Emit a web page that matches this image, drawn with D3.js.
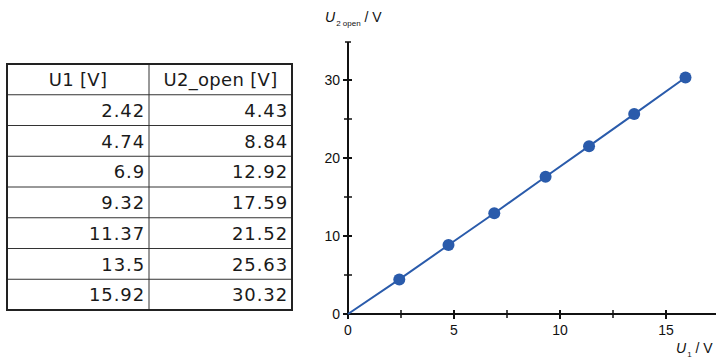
<!DOCTYPE html>
<html>
<head>
<meta charset="utf-8">
<script src="https://cdn.jsdelivr.net/npm/d3@7"></script>
<style>
  html, body { margin: 0; padding: 0; background: #fff; }
  svg { display: block; }
</style>
</head>
<body>
<svg id="chart" width="716" height="361"></svg>
<script>
// Measured open-circuit voltages
const u1Values = [2.42, 4.74, 6.9, 9.32, 11.37, 13.5, 15.92];
const u2OpenValues = [4.43, 8.84, 12.92, 17.59, 21.52, 25.63, 30.32];
const u1Labels = ["2.42", "4.74", "6.9", "9.32", "11.37", "13.5", "15.92"];
const u2OpenLabels = ["4.43", "8.84", "12.92", "17.59", "21.52", "25.63", "30.32"];
const tableHeaders = ["U1 [V]", "U2_open [V]"];
const xTicks = [0, 5, 10, 15];
const xMinorTicks = [2.5, 7.5, 12.5];
const yTicks = [0, 10, 20, 30];
const yMinorTicks = [5, 15, 25];

const svg = d3.select("#chart");

// ---------- table ----------
const tbl = { x: 7, y: 64, colW: [142, 143], rowH: 30.75 };
const tableG = svg.append("g");
const rows = [tableHeaders].concat(u1Labels.map((d, i) => [d, u2OpenLabels[i]]));
const tblW = tbl.colW[0] + tbl.colW[1];
const tblH = tbl.rowH * rows.length;

// inner grid lines
for (let i = 1; i < rows.length; i++) {
  tableG.append("line")
    .attr("x1", tbl.x).attr("x2", tbl.x + tblW)
    .attr("y1", tbl.y + i * tbl.rowH).attr("y2", tbl.y + i * tbl.rowH)
    .attr("stroke", "#333").attr("stroke-width", 1);
}
tableG.append("line")
  .attr("x1", tbl.x + tbl.colW[0]).attr("x2", tbl.x + tbl.colW[0])
  .attr("y1", tbl.y).attr("y2", tbl.y + tblH)
  .attr("stroke", "#333").attr("stroke-width", 1);
tableG.append("rect")
  .attr("x", tbl.x).attr("y", tbl.y)
  .attr("width", tblW).attr("height", tblH)
  .attr("fill", "none").attr("stroke", "#222").attr("stroke-width", 2);

rows.forEach((r, i) => {
  r.forEach((txt, j) => {
    const header = i === 0;
    const cx = tbl.x + (j === 0 ? 0 : tbl.colW[0]);
    tableG.append("text")
      .attr("x", header ? cx + tbl.colW[j] / 2 : cx + tbl.colW[j] - 4)
      .attr("y", tbl.y + i * tbl.rowH + 22)
      .attr("text-anchor", header ? "middle" : "end")
      .attr("font-family", "DejaVu Sans, Verdana, sans-serif")
      .attr("font-size", 18)
      .attr("letter-spacing", header ? 0.3 : 0.9)
      .attr("fill", "#1a1a1a")
      .text(txt);
  });
});

// ---------- chart ----------
const x = d3.scaleLinear().domain([0, 15]).range([348, 666]);
const y = d3.scaleLinear().domain([0, 30]).range([314, 80]);
const axisFont = "Liberation Sans, Arial, sans-serif";

const g = svg.append("g");

// axes lines
g.append("line")
  .attr("x1", x(0)).attr("x2", 716)
  .attr("y1", y(0)).attr("y2", y(0))
  .attr("stroke", "#111").attr("stroke-width", 2);
g.append("line")
  .attr("x1", x(0)).attr("x2", x(0))
  .attr("y1", y(0)).attr("y2", 42)
  .attr("stroke", "#111").attr("stroke-width", 2);
// cap at top of y axis
g.append("line")
  .attr("x1", x(0) - 3).attr("x2", x(0) + 3)
  .attr("y1", 42).attr("y2", 42)
  .attr("stroke", "#111").attr("stroke-width", 1.5);

// x ticks
xTicks.concat(xMinorTicks).forEach(t => {
  const major = xTicks.includes(t);
  g.append("line")
    .attr("x1", x(t)).attr("x2", x(t))
    .attr("y1", y(0) - 4).attr("y2", y(0) + (major ? 5 : 4))
    .attr("stroke", "#111").attr("stroke-width", major ? 2 : 1.5);
});
xTicks.forEach(t => {
  g.append("text")
    .attr("x", x(t)).attr("y", y(0) + 21)
    .attr("text-anchor", "middle")
    .attr("font-family", axisFont).attr("font-size", 14)
    .attr("fill", "#111").text(t);
});

// y ticks
yTicks.concat(yMinorTicks).forEach(t => {
  const major = yTicks.includes(t);
  g.append("line")
    .attr("x1", x(0) - (major ? 5 : 4)).attr("x2", x(0) + 4)
    .attr("y1", y(t)).attr("y2", y(t))
    .attr("stroke", "#111").attr("stroke-width", major ? 2 : 1.5);
});
yTicks.forEach(t => {
  g.append("text")
    .attr("x", x(0) - 8).attr("y", y(t) + 5)
    .attr("text-anchor", "end")
    .attr("font-family", axisFont).attr("font-size", 14)
    .attr("fill", "#111").text(t);
});

// axis titles
const yTitle = g.append("text")
  .attr("x", 325).attr("y", 22)
  .attr("font-family", axisFont).attr("font-size", 14).attr("fill", "#111");
yTitle.append("tspan").attr("font-style", "italic").text("U");
yTitle.append("tspan").attr("font-size", 8).attr("dy", 4).attr("dx", 1).text("2 open");
yTitle.append("tspan").attr("dy", -4).text(" / V");

const xTitle = g.append("text")
  .attr("x", 676).attr("y", 353)
  .attr("font-family", axisFont).attr("font-size", 14).attr("fill", "#111");
xTitle.append("tspan").attr("font-style", "italic").text("U");
xTitle.append("tspan").attr("font-size", 8).attr("dy", 4).attr("dx", 1).text("1");
xTitle.append("tspan").attr("dy", -4).text(" / V");

// data line from origin through measurements
const pts = [[0, 0]].concat(u1Values.map((d, i) => [d, u2OpenValues[i]]));
const color = "#2a5bab";
g.append("path")
  .datum(pts)
  .attr("d", d3.line().x(d => x(d[0])).y(d => y(d[1])))
  .attr("fill", "none").attr("stroke", color).attr("stroke-width", 2);

g.selectAll("circle.pt")
  .data(u1Values.map((d, i) => [d, u2OpenValues[i]]))
  .join("circle")
  .attr("class", "pt")
  .attr("cx", d => x(d[0])).attr("cy", d => y(d[1]))
  .attr("r", 6).attr("fill", color);
</script>
</body>
</html>
